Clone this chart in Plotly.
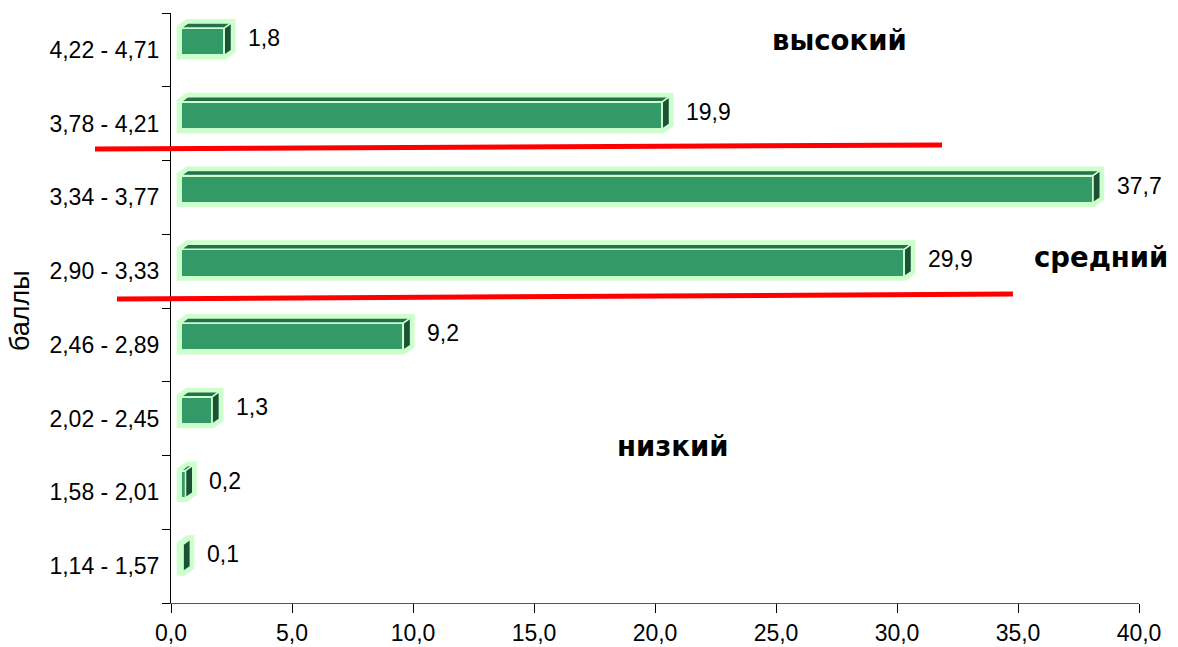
import plotly.graph_objects as go

# Score bands (баллы) and share of respondents, %
categories = ["1,14 - 1,57", "1,58 - 2,01", "2,02 - 2,45", "2,46 - 2,89",
              "2,90 - 3,33", "3,34 - 3,77", "3,78 - 4,21", "4,22 - 4,71"]
percent = [0.1, 0.2, 1.3, 9.2, 29.9, 37.7, 19.9, 1.8]
x_ticks = [0, 5, 10, 15, 20, 25, 30, 35, 40]

FRONT = "#339966"
TOP = "#24704b"
SIDE = "#1b5236"
EDGE = "#ccffcc"

# pseudo-3D bar geometry, in axis units
base = 0.4      # front face starts just right of the axis
shift = 0.11    # front face sits slightly above the band centre
h = 0.37        # front face height
dx, dy = 0.3, 0.07  # depth of the box

fig = go.Figure()


def path_of(xs, ys):
    pts = " L".join(f"{x},{y}" for x, y in zip(xs, ys))
    return f"M{pts} Z"


def poly(xs, ys, fill, lw, lc):
    fig.add_trace(go.Scatter(
        x=xs + [xs[0]], y=ys + [ys[0]], mode="lines", fill="toself",
        fillcolor=fill, line=dict(color=lc, width=lw),
        hoverinfo="skip", showlegend=False))


# front faces as a real bar trace
fig.add_trace(go.Bar(
    x=percent, y=[i + shift for i in range(len(percent))], base=base,
    orientation="h", width=h, marker=dict(color=FRONT, line=dict(color=EDGE, width=2)),
    hoverinfo="skip", showlegend=False))

for i, v in enumerate(percent):
    c = i + shift
    x0, x1 = base, base + v
    y0, y1 = c - h / 2, c + h / 2
    # light green silhouette around the whole box, beneath the bars
    fig.add_shape(type="path", xref="x", yref="y", layer="below",
                  path=path_of([x0, x1, x1 + dx, x1 + dx, x0 + dx, x0],
                               [y0, y0, y0 + dy, y1 + dy, y1 + dy, y1]),
                  fillcolor=EDGE, line=dict(color=EDGE, width=8))
    # top face
    poly([x0, x1, x1 + dx, x0 + dx], [y1, y1, y1 + dy, y1 + dy], TOP, 1.5, EDGE)
    # right face
    poly([x1, x1 + dx, x1 + dx, x1], [y0, y0 + dy, y1 + dy, y1], SIDE, 1.5, EDGE)

# value labels
for i, v in enumerate(percent):
    fig.add_annotation(
        x=v + 1.3, y=i + 0.16, xref="x", yref="y", xanchor="left", yanchor="middle",
        text=f"{v:.1f}".replace(".", ","), showarrow=False,
        font=dict(family="Liberation Sans, Arial, sans-serif", size=23, color="black"))

# level captions
level_font = dict(family="DejaVu Sans, Verdana, sans-serif", size=27.5, color="black")
for txt, px, py in [("высокий", 0.691, 0.955), ("средний", 0.9607, 0.5864),
                    ("низкий", 0.5176, 0.2660)]:
    fig.add_annotation(x=px, y=py, xref="paper", yref="paper", text=f"<b>{txt}</b>",
                       showarrow=False, font=level_font, xanchor="center", yanchor="middle")

# boundaries between levels
fig.add_shape(type="line", xref="paper", yref="paper", x0=-0.0785, y0=0.7695,
              x1=0.7965, y1=0.7763, line=dict(color="#ff0000", width=5))
fig.add_shape(type="line", xref="paper", yref="paper", x0=-0.0558, y0=0.5153,
              x1=0.8698, y1=0.5237, line=dict(color="#ff0000", width=5))

# axis title
fig.add_annotation(x=-0.156, y=0.4966, xref="paper", yref="paper", text="баллы",
                   textangle=-90, showarrow=False, xanchor="center", yanchor="middle",
                   font=dict(family="Liberation Sans, Arial, sans-serif", size=27, color="black"))

tick_font = dict(family="Liberation Sans, Arial, sans-serif", size=23, color="black")

fig.update_layout(
    width=1178, height=647,
    margin=dict(l=171, r=39, t=13, b=44),
    paper_bgcolor="white", plot_bgcolor="white",
    separators=", ",
    xaxis=dict(range=[0, 40], tickvals=x_ticks, tickformat=".1f",
               ticks="outside", ticklen=9, tickcolor="black",
               ticklabelstandoff=0, automargin=False,
               showline=True, linecolor="#555555", linewidth=1,
               showgrid=False, zeroline=False, tickfont=tick_font,
               fixedrange=True),
    yaxis=dict(range=[-0.5, 7.5], tickvals=list(range(len(categories))),
               ticktext=categories, ticks="", showline=True, linecolor="black",
               linewidth=1, showgrid=False, zeroline=False, tickfont=tick_font,
               ticklabelstandoff=6, automargin=False,
               minor=dict(tickvals=[k - 0.5 for k in range(len(categories) + 1)],
                          ticks="outside", ticklen=8, tickcolor="black", showgrid=False),
               fixedrange=True),
    bargap=0,
)

fig.write_html("out.html")
